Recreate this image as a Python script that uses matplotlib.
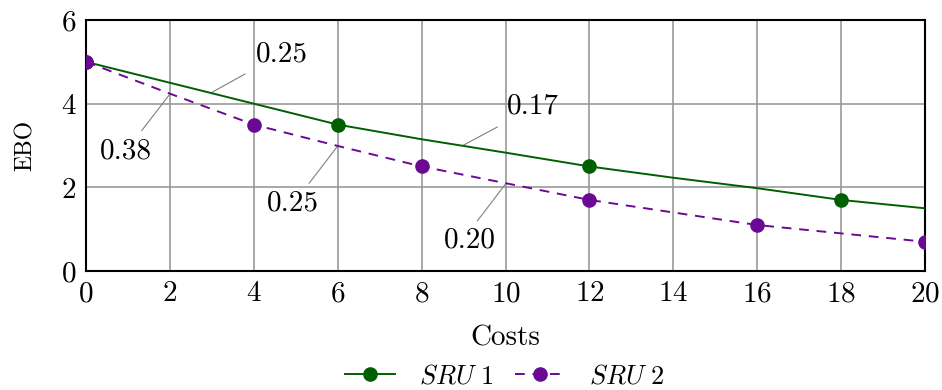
import matplotlib
matplotlib.use("Agg")
import matplotlib.pyplot as plt

plt.rcParams["font.family"] = "serif"
plt.rcParams["font.serif"] = ["cmr10"]
plt.rcParams["mathtext.fontset"] = "cm"
plt.rcParams["axes.formatter.use_mathtext"] = True

# SRU 1: smooth curve values, markers only at some costs
sru1_x = [0, 2, 4, 6, 8, 10, 12, 14, 16, 18, 20]
sru1_y = [5.0, 4.5, 4.0, 3.5, 3.15, 2.83, 2.5, 2.23, 1.98, 1.7, 1.5]
sru1_marks = [0, 3, 6, 9]

# SRU 2: dashed curve
sru2_x = [0, 2, 4, 6, 8, 10, 12, 14, 16, 18, 20]
sru2_y = [5.0, 4.24, 3.5, 2.99, 2.5, 2.1, 1.7, 1.4, 1.1, 0.9, 0.7]
sru2_marks = [0, 2, 4, 6, 8, 10]

# slope pins: point on curve, label text, label centre, pin end
pins = [
    (3.0, 4.27, "0.25", 4.67, 5.17, 3.79, 4.71),
    (2.0, 4.23, "0.38", 0.95, 2.85, 1.33, 3.36),
    (9.0, 3.01, "0.17", 10.65, 3.93, 9.80, 3.44),
    (6.0, 2.99, "0.25", 4.94, 1.62, 5.32, 2.10),
    (10.0, 2.08, "0.20", 9.15, 0.74, 9.33, 1.20),
]

green = "#005f00"
purple = "#6a0a94"

fig = plt.figure(figsize=(9.42, 3.9), dpi=100)
ax = fig.add_axes([0.0913, 0.305, 0.8907, 0.6437])

ax.plot(sru1_x, sru1_y, color=green, lw=1.4, marker="o", ms=9.5,
        markevery=sru1_marks, label=r"$\mathit{SRU\ 1}$", zorder=3)
ax.plot(sru2_x, sru2_y, color=purple, lw=1.4, ls=(0, (5, 4)), marker="o",
        ms=9.5, markevery=sru2_marks, label=r"$\mathit{SRU\ 2}$", zorder=3)

for x0, y0, txt, tx, ty, lx, ly in pins:
    ax.plot([x0, lx], [y0, ly], color="#808080", lw=0.8, zorder=2)
    ax.text(tx, ty, txt, fontsize=21, ha="center", va="center")

ax.set_xlim(0, 20)
ax.set_ylim(0, 6)
ax.set_xticks(range(0, 21, 2))
ax.set_yticks(range(0, 7, 2))
ax.grid(True, color="#999999", lw=1.2)
ax.set_axisbelow(True)
ax.tick_params(labelsize=21, length=0)
ax.tick_params(axis="x", pad=7)
ax.tick_params(axis="y", pad=7)
for s in ax.spines.values():
    s.set_linewidth(1.5)

ax.set_xlabel("Costs", fontsize=21, labelpad=13)
ax.set_ylabel("EBO", fontsize=17, labelpad=17)

fig.legend(loc="center", bbox_to_anchor=(0.536, 0.035), ncol=2, frameon=False,
           fontsize=19, handlelength=1.9, columnspacing=0.8, handletextpad=0.9)

fig.savefig("out.png", dpi=100)
